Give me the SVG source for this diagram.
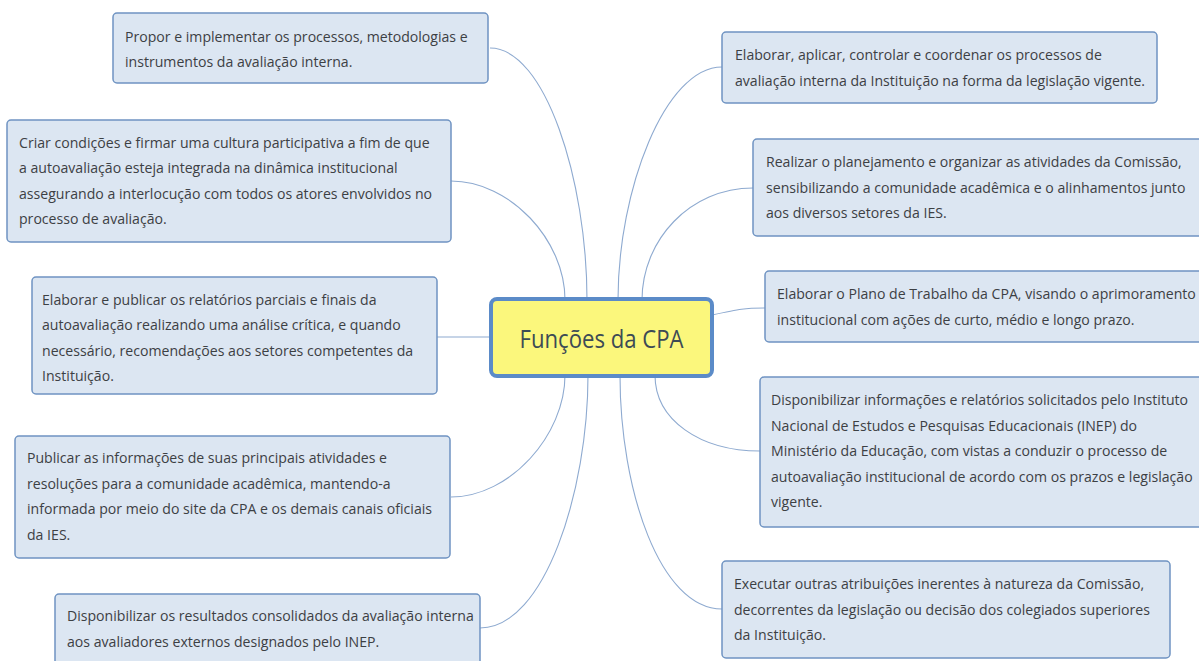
<svg xmlns="http://www.w3.org/2000/svg" width="1199" height="661" viewBox="0 0 1199 661">
<style>
.box{fill:#dce6f2;stroke:#6f93c2;stroke-width:1.5}
.t{font-family:"Open Sans","Noto Sans",sans-serif;font-size:14.1px;fill:#3c4044}
.c{fill:none;stroke:#8eaad0;stroke-width:1.1}
.main{fill:#fbf77c;stroke:#5b8bc8;stroke-width:4}
.mt{font-family:"Open Sans","Noto Sans",sans-serif;font-size:25px;fill:#3d4b55;text-anchor:middle}
</style>
<rect width="1199" height="661" fill="#ffffff"/>
<g id="connectors">
<path class="c" d="M490,48 C545,48 587,180 587,300"/>
<path class="c" d="M451,181 C510,181 565,240 565,300"/>
<path class="c" d="M437,337 L491,337"/>
<path class="c" d="M451,497 C510,497 565,435 565,375"/>
<path class="c" d="M480,628 C545,628 588,490 588,375"/>
<path class="c" d="M722,67 C665,67 618,190 618,300"/>
<path class="c" d="M753,188 C690,188 642,240 642,300"/>
<path class="c" d="M712,315 C740,309 745,308 765,308"/>
<path class="c" d="M655,375 C655,420 700,451 760,451"/>
<path class="c" d="M722,609 C660,609 620,490 620,375"/>
</g>
<g id="center">
<rect class="main" x="491" y="299" width="221" height="77" rx="6"/>
<text class="mt" x="601.5" y="348" textLength="164" lengthAdjust="spacingAndGlyphs">Funções da CPA</text>
</g>
<g id="L1">
<rect class="box" x="113" y="13" width="375" height="70" rx="4"/>
<text class="t" x="125" y="41.5">Propor e implementar os processos, metodologias e</text>
<text class="t" x="125" y="67">instrumentos da avaliação interna.</text>
</g>
<g id="L2">
<rect class="box" x="7" y="120" width="444" height="122" rx="4"/>
<text class="t" x="19" y="147.5">Criar condições e firmar uma cultura participativa a fim de que</text>
<text class="t" x="19" y="173">a autoavaliação esteja integrada na dinâmica institucional</text>
<text class="t" x="19" y="198.5">assegurando a interlocução com todos os atores envolvidos no</text>
<text class="t" x="19" y="224">processo de avaliação.</text>
</g>
<g id="L3">
<rect class="box" x="32" y="277" width="405" height="117" rx="4"/>
<text class="t" x="42" y="304.5">Elaborar e publicar os relatórios parciais e finais da</text>
<text class="t" x="42" y="330">autoavaliação realizando uma análise crítica, e quando</text>
<text class="t" x="42" y="355.5">necessário, recomendações aos setores competentes da</text>
<text class="t" x="42" y="381">Instituição.</text>
</g>
<g id="L4">
<rect class="box" x="15" y="436" width="435" height="122" rx="4"/>
<text class="t" x="27" y="463">Publicar as informações de suas principais atividades e</text>
<text class="t" x="27" y="488.5">resoluções para a comunidade acadêmica, mantendo-a</text>
<text class="t" x="27" y="514">informada por meio do site da CPA e os demais canais oficiais</text>
<text class="t" x="27" y="539.5">da IES.</text>
</g>
<g id="L5">
<rect class="box" x="55" y="594" width="425" height="72" rx="4"/>
<text class="t" x="67" y="621">Disponibilizar os resultados consolidados da avaliação interna</text>
<text class="t" x="67" y="646.5">aos avaliadores externos designados pelo INEP.</text>
</g>
<g id="R1">
<rect class="box" x="722" y="32" width="435" height="71" rx="4"/>
<text class="t" x="735" y="60">Elaborar, aplicar, controlar e coordenar os processos de</text>
<text class="t" x="735" y="85.5">avaliação interna da Instituição na forma da legislação vigente.</text>
</g>
<g id="R2">
<rect class="box" x="753" y="139" width="460" height="97" rx="4"/>
<text class="t" x="766" y="167">Realizar o planejamento e organizar as atividades da Comissão,</text>
<text class="t" x="766" y="192.5">sensibilizando a comunidade acadêmica e o alinhamentos junto</text>
<text class="t" x="766" y="218">aos diversos setores da IES.</text>
</g>
<g id="R3">
<rect class="box" x="765" y="271" width="450" height="71" rx="4"/>
<text class="t" x="777" y="299">Elaborar o Plano de Trabalho da CPA, visando o aprimoramento</text>
<text class="t" x="777" y="324.5">institucional com ações de curto, médio e longo prazo.</text>
</g>
<g id="R4">
<rect class="box" x="760" y="377" width="450" height="150" rx="4"/>
<text class="t" x="771" y="405">Disponibilizar informações e relatórios solicitados pelo Instituto</text>
<text class="t" x="771" y="430.5">Nacional de Estudos e Pesquisas Educacionais (INEP) do</text>
<text class="t" x="771" y="456">Ministério da Educação, com vistas a conduzir o processo de</text>
<text class="t" x="771" y="481.5">autoavaliação institucional de acordo com os prazos e legislação</text>
<text class="t" x="771" y="507">vigente.</text>
</g>
<g id="R5">
<rect class="box" x="722" y="561" width="448" height="97" rx="4"/>
<text class="t" x="734" y="589">Executar outras atribuições inerentes à natureza da Comissão,</text>
<text class="t" x="734" y="614.5">decorrentes da legislação ou decisão dos colegiados superiores</text>
<text class="t" x="734" y="640">da Instituição.</text>
</g>
</svg>
